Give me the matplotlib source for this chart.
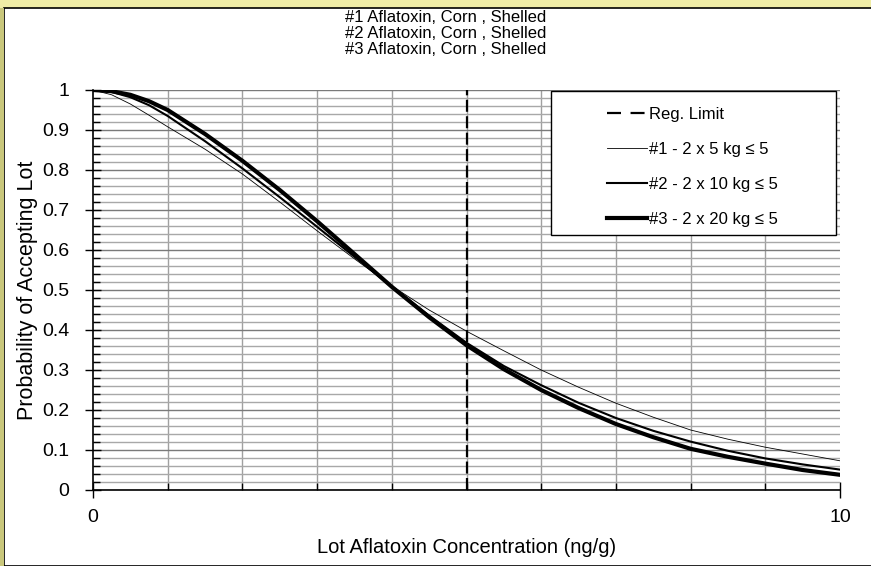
import numpy as np
import matplotlib.pyplot as plt
from matplotlib.patches import Rectangle
from matplotlib.lines import Line2D
from matplotlib.ticker import MultipleLocator, FixedLocator

plt.rcParams['font.family'] = ['Liberation Sans', 'DejaVu Sans']

# lot concentration (ng/g) and acceptance probability for each sampling plan
conc = [0, 0.25, 0.5, 0.75, 1, 1.5, 2, 2.5, 3, 3.5, 4, 4.5, 5,
        5.5, 6, 6.5, 7, 7.5, 8, 8.5, 9, 9.5, 10]
p_5kg = [1.0, 0.988, 0.965, 0.937, 0.908, 0.852, 0.79, 0.72, 0.648, 0.578, 0.51, 0.45, 0.397,
         0.348, 0.30, 0.257, 0.217, 0.182, 0.15, 0.127, 0.107, 0.09, 0.073]
p_10kg = [1.0, 0.995, 0.982, 0.962, 0.935, 0.872, 0.804, 0.732, 0.658, 0.583, 0.508, 0.436, 0.368,
          0.31, 0.262, 0.218, 0.18, 0.148, 0.121, 0.098, 0.079, 0.064, 0.051]
p_20kg = [1.0, 0.997, 0.988, 0.972, 0.95, 0.89, 0.823, 0.75, 0.672, 0.59, 0.508, 0.432, 0.362,
          0.302, 0.25, 0.205, 0.165, 0.132, 0.103, 0.083, 0.066, 0.05, 0.038]
reg_limit = 5

W, H = 871, 566
fig = plt.figure(figsize=(W / 100, H / 100), dpi=100)
fig.patch.set_facecolor('#efeca6')
# white chart panel sitting on the slide background
fig.patches.append(Rectangle((4 / W, 0), 1, 1 - 8 / H, transform=fig.transFigure,
                             facecolor='white', edgecolor='black', linewidth=1.2, zorder=-2))
fig.patches.append(Rectangle((0, 0), 4 / W, 1 - 8 / H, transform=fig.transFigure,
                             facecolor='#c9c77c', edgecolor='none', zorder=-2))

ax = fig.add_axes([93 / W, 76 / H, 747 / W, 400 / H])
ax.set_xlim(0, 10)
ax.set_ylim(0, 1)

# grid: light lines every 0.02, darker every 0.1, verticals every 1
ax.yaxis.set_major_locator(MultipleLocator(0.1))
ax.yaxis.set_minor_locator(MultipleLocator(0.02))
ax.xaxis.set_major_locator(FixedLocator([0, 10]))
ax.xaxis.set_minor_locator(MultipleLocator(1))
ax.grid(True, which='minor', axis='y', color='#a8a8a8', linewidth=1.0)
ax.grid(True, which='major', axis='y', color='#7a7a7a', linewidth=1.0)
ax.grid(True, which='minor', axis='x', color='#a0a0a0', linewidth=1.0)
ax.set_axisbelow(True)

ax.yaxis.set_major_formatter(plt.FuncFormatter(lambda v, _: f'{v:g}'))
ax.tick_params(axis='y', which='major', direction='inout', length=12, width=1, labelsize=14, pad=11)
ax.tick_params(axis='y', which='minor', direction='in', length=5, width=1)
ax.tick_params(axis='x', which='major', direction='inout', length=12, width=1, labelsize=14, pad=8)
ax.tick_params(axis='x', which='minor', direction='in', length=5, width=1)

for side in ['top', 'right']:
    ax.spines[side].set_visible(False)
ax.spines['left'].set_linewidth(1.2)
ax.spines['bottom'].set_linewidth(1.2)

ax.axvline(reg_limit, color='black', linewidth=1.6, dashes=(5.4, 2.0))
ax.plot(conc, p_5kg, color='black', linewidth=0.6)
ax.plot(conc, p_10kg, color='black', linewidth=1.5)
ax.plot(conc, p_20kg, color='black', linewidth=3.0)

# legend box drawn separately, entries sit right of centre inside it
fig.patches.append(Rectangle((551 / W, 1 - 235 / H), 285 / W, 144 / H, transform=fig.transFigure,
                             facecolor='white', edgecolor='black', linewidth=1.0, zorder=3))
handles = [Line2D([], [], color='black', linewidth=1.6, dashes=(6.3, 4.3)),
           Line2D([], [], color='black', linewidth=0.6),
           Line2D([], [], color='black', linewidth=1.5),
           Line2D([], [], color='black', linewidth=3.0)]
labels = ['Reg. Limit', '#1 - 2 x 5 kg \u2264 5', '#2 - 2 x 10 kg \u2264 5', '#3 - 2 x 20 kg \u2264 5']
leg = fig.legend(handles, labels, loc='upper left',
                 bbox_to_anchor=(607 / W, 1 - 107 / H), fontsize=12, frameon=False,
                 borderpad=0, labelspacing=1.2, handlelength=2.4, handletextpad=0.12,
                 borderaxespad=0)
leg.set_zorder(4)

ax.set_xlabel('Lot Aflatoxin Concentration (ng/g)', fontsize=14.5, labelpad=8)
ax.set_ylabel('Probability of Accepting Lot', fontsize=15.5, labelpad=3)

fig.text(446 / W, 1 - 10 / H, '#1 Aflatoxin, Corn , Shelled\n#2 Aflatoxin, Corn , Shelled\n'
         '#3 Aflatoxin, Corn , Shelled', ha='center', va='top', fontsize=12, linespacing=1.08)

fig.savefig('out.png', dpi=100)
